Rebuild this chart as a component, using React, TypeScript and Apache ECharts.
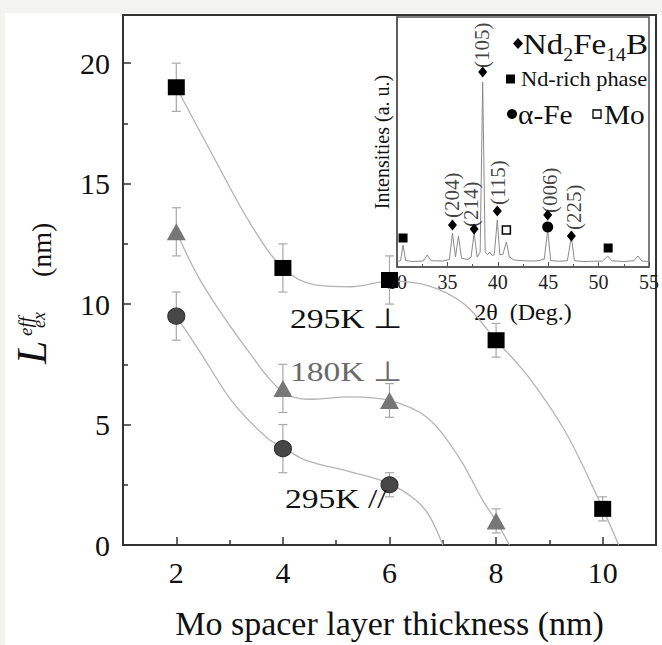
import React, { useEffect, useRef } from 'react';
import * as echarts from 'echarts';

// ---------- main plot data ----------
const thickness = [2, 4, 6, 8, 10];
const perp295 = [19, 11.5, 11, 8.5, 1.5];
const perp295Err = [1, 1, 1, 0.7, 0.5];
const perp180 = [13, 6.5, 6, 1];
const perp180Err = [1, 1, 0.7, 0.5];
const par295 = [9.5, 4, 2.5];
const par295Err = [1, 1, 0.5];

// fitted guide curves
const fitPerp295 = [[2, 19], [2.75, 15.9], [3.4, 13.3], [4, 11.5], [4.6, 10.8], [5.3, 10.72], [6, 10.95], [6.75, 10.75], [7.4, 10], [8, 8.5], [8.6, 7], [9.3, 4.7], [9.9, 2], [10.3, 0]];
const fitPerp180 = [[2, 13], [2.5, 10.8], [3.4, 7.9], [4, 6.35], [4.5, 6.05], [5.25, 6.15], [6, 6], [6.7, 5.3], [7.3, 3.65], [7.75, 1.85], [8, 1], [8.25, 0]];
const fitPar295 = [[2, 9.5], [2.45, 8], [3.05, 5.95], [3.7, 4.45], [4, 4.05], [4.45, 3.5], [5.25, 3.05], [6, 2.55], [6.5, 1.85], [6.75, 1.2], [7.0, 0]];

const xMajorTicks = [2, 4, 6, 8, 10];
const xMinorTicks = [3, 5, 7, 9];
const yMajorTicks = [0, 5, 10, 15, 20];
const yMinorTicks = [2.5, 7.5, 12.5, 17.5];

// ---------- inset (XRD) data ----------
const xrdPattern = [
  [30, 2.2], [30.35, 2.5], [30.6, 8.8], [30.85, 2.6], [31.5, 2.2], [32.6, 2.4], [33.0, 4.8], [33.4, 2.5],
  [34.5, 2.4], [35.2, 3], [35.5, 13.6], [35.8, 4], [36.1, 12.4], [36.4, 3.5], [37.0, 3], [37.35, 4],
  [37.65, 13.6], [37.95, 4], [38.25, 6], [38.5, 74], [38.75, 6], [39.0, 5], [39.2, 6], [39.45, 4.5],
  [39.65, 5], [39.95, 18.8], [40.2, 5], [40.5, 5], [40.85, 10], [41.15, 4], [41.6, 2.8], [42.5, 2.5],
  [43.5, 2.4], [44.2, 2.6], [44.4, 3.2], [44.6, 3], [44.95, 14.8], [45.25, 2.6], [46, 2.3], [46.9, 2.5],
  [47.3, 12], [47.6, 2.5], [48.5, 2.2], [49.5, 2.3], [50.4, 2.4], [50.9, 4.4], [51.3, 2.5], [52.5, 2.2],
  [53.5, 2.5], [53.9, 4.4], [54.3, 2.4], [55, 2.2]
];
const nd2fe14bPeaks = [[35.5, 16.8], [37.65, 15.2], [38.5, 78], [39.95, 22.4], [44.95, 20.8], [47.3, 12.4]];
const ndRichPeaks = [[30.6, 11.6], [50.95, 7.6]];
const alphaFePeaks = [[44.95, 16]];
const moPeaks = [[40.85, 14.8]];
const peakLabels = ['(204)', '(214)', '(105)', '(115)', '(006)', '(225)'];
const peakLabelPos = [[35.5, 19.6], [37.3, 16], [38.45, 79.6], [40.0, 24.8], [45.2, 21.6], [47.6, 14.8]];

const SERIF = 'Liberation Serif';

function errorBars(xs: number[], ys: number[], es: number[]) {
  return xs.slice(0, ys.length).map((x, i) => [x, ys[i] - es[i], ys[i] + es[i]]);
}

function renderErrorBar(_params: any, api: any) {
  const x = api.value(0);
  const lo = api.coord([x, api.value(1)]);
  const hi = api.coord([x, api.value(2)]);
  const hw = 4.5;
  const style = { stroke: '#a8a8a8', lineWidth: 1.2, fill: 'none' };
  return {
    type: 'group',
    children: [
      { type: 'line', shape: { x1: hi[0], y1: hi[1], x2: lo[0], y2: lo[1] }, style },
      { type: 'line', shape: { x1: hi[0] - hw, y1: hi[1], x2: hi[0] + hw, y2: hi[1] }, style },
      { type: 'line', shape: { x1: lo[0] - hw, y1: lo[1], x2: lo[0] + hw, y2: lo[1] }, style },
    ],
  };
}

function txt(x: number, y: number, text: string, size: number, extra: any = {}, style: any = {}) {
  return {
    type: 'text', x, y, z: 50, ...extra,
    style: {
      text, fontSize: size, fontFamily: SERIF, fill: '#111',
      textAlign: 'left', align: 'left', textVerticalAlign: 'middle', verticalAlign: 'middle',
      ...style,
    },
  };
}

export default function App() {
  const ref = useRef<HTMLDivElement>(null);
  useEffect(() => {
    if (!ref.current) return;
    const chart = echarts.init(ref.current, null, { renderer: 'svg' });
    const axisColor = '#333';
    const fitStyle = { color: '#b4b4b4', width: 1.3 };
    const rot = { rotation: Math.PI / 2 };
    const option: any = {
      animation: false,
      backgroundColor: 'transparent',
      textStyle: { fontFamily: SERIF },
      grid: [
        { left: 123, right: 6, top: 15, bottom: 93, show: true, borderColor: axisColor, borderWidth: 2, backgroundColor: 'transparent' },
        { left: 397, top: 17, width: 258, height: 250, show: true, borderColor: '#555', borderWidth: 1.5, backgroundColor: '#fff' },
      ],
      xAxis: [
        {
          type: 'value', gridIndex: 0, min: 1, max: 11, position: 'bottom',
          axisLine: { show: true, lineStyle: { color: axisColor, width: 2 } },
          axisTick: { show: true, inside: true, length: 8, customValues: xMajorTicks, lineStyle: { color: axisColor, width: 1.5 } },
          axisLabel: { customValues: xMajorTicks, fontSize: 30, fontFamily: SERIF, color: '#111', margin: 12 },
          splitLine: { show: false },
          name: 'Mo spacer layer thickness (nm)', nameLocation: 'middle', nameGap: 61,
          nameTextStyle: { fontSize: 34, fontFamily: SERIF, color: '#111' },
        },
        {
          type: 'value', gridIndex: 1, min: 30, max: 55, interval: 5, position: 'bottom',
          axisLine: { show: true, lineStyle: { color: '#555', width: 1.5 } },
          axisTick: { show: true, inside: true, length: 5, lineStyle: { color: '#555' } },
          minorTick: { show: true, splitNumber: 2, length: 3, lineStyle: { color: '#555' } },
          axisLabel: { fontSize: 20, fontFamily: SERIF, color: '#222', margin: 5 },
          splitLine: { show: false },
          name: '2θ  (Deg.)', nameLocation: 'middle', nameGap: 33,
          nameTextStyle: { fontSize: 24, fontFamily: SERIF, color: '#111' },
        },
        {
          type: 'value', gridIndex: 0, min: 1, max: 11, position: 'bottom',
          axisLine: { show: false },
          axisTick: { show: true, inside: true, length: 5, customValues: xMinorTicks, lineStyle: { color: axisColor, width: 1.5 } },
          axisLabel: { show: false }, splitLine: { show: false },
        },
      ],
      yAxis: [
        {
          type: 'value', gridIndex: 0, min: 0, max: 22, position: 'left',
          axisLine: { show: true, lineStyle: { color: axisColor, width: 2 } },
          axisTick: { show: true, inside: true, length: 8, customValues: yMajorTicks, lineStyle: { color: axisColor, width: 1.5 } },
          axisLabel: { customValues: yMajorTicks, fontSize: 30, fontFamily: SERIF, color: '#111', margin: 13 },
          splitLine: { show: false },
        },
        {
          type: 'value', gridIndex: 1, min: 0, max: 100, position: 'left',
          axisLine: { show: true, lineStyle: { color: '#555', width: 1.5 } },
          axisTick: { show: false }, axisLabel: { show: false }, splitLine: { show: false },
          name: 'Intensities (a. u.)', nameLocation: 'middle', nameRotate: 90, nameGap: 5,
          nameTextStyle: { fontSize: 20, fontFamily: SERIF, color: '#111' },
        },
        {
          type: 'value', gridIndex: 0, min: 0, max: 22, position: 'left',
          axisLine: { show: false },
          axisTick: { show: true, inside: true, length: 5, customValues: yMinorTicks, lineStyle: { color: axisColor, width: 1.5 } },
          axisLabel: { show: false }, splitLine: { show: false },
        },
      ],
      series: [
        // inset
        { type: 'line', xAxisIndex: 1, yAxisIndex: 1, data: xrdPattern, showSymbol: false, symbol: 'none', lineStyle: { color: '#8a8a8a', width: 1 }, z: 2 },
        { type: 'scatter', xAxisIndex: 1, yAxisIndex: 1, data: nd2fe14bPeaks, symbol: 'diamond', symbolSize: [9, 11], itemStyle: { color: '#000', opacity: 1 }, z: 3 },
        { type: 'scatter', xAxisIndex: 1, yAxisIndex: 1, data: ndRichPeaks, symbol: 'rect', symbolSize: 9, itemStyle: { color: '#000', opacity: 1 }, z: 3 },
        { type: 'scatter', xAxisIndex: 1, yAxisIndex: 1, data: alphaFePeaks, symbol: 'circle', symbolSize: 11, itemStyle: { color: '#000', opacity: 1 }, z: 3 },
        { type: 'scatter', xAxisIndex: 1, yAxisIndex: 1, data: moPeaks, symbol: 'rect', symbolSize: 8, itemStyle: { color: '#fff', borderColor: '#000', borderWidth: 1.5, opacity: 1 }, z: 3 },
        {
          type: 'scatter', xAxisIndex: 1, yAxisIndex: 1, symbolSize: 1, itemStyle: { color: 'rgba(0,0,0,0)' }, z: 3,
          data: peakLabelPos.map((p, i) => ({ value: p, name: peakLabels[i] })),
          label: {
            show: true, formatter: '{b}', position: 'inside', rotate: 90, align: 'left', verticalAlign: 'middle',
            fontSize: 21, fontFamily: SERIF, color: '#111',
          },
        },
        // main fits
        { type: 'line', data: fitPerp295, smooth: 0.35, symbol: 'none', lineStyle: fitStyle, z: 2 },
        { type: 'line', data: fitPerp180, smooth: 0.35, symbol: 'none', lineStyle: fitStyle, z: 2 },
        { type: 'line', data: fitPar295, smooth: 0.35, symbol: 'none', lineStyle: fitStyle, z: 2 },
        // error bars
        { type: 'custom', renderItem: renderErrorBar, data: errorBars(thickness, perp295, perp295Err), encode: { x: 0, y: [1, 2] }, z: 4 },
        { type: 'custom', renderItem: renderErrorBar, data: errorBars(thickness, perp180, perp180Err), encode: { x: 0, y: [1, 2] }, z: 4 },
        { type: 'custom', renderItem: renderErrorBar, data: errorBars(thickness, par295, par295Err), encode: { x: 0, y: [1, 2] }, z: 4 },
        // markers
        { type: 'scatter', data: thickness.slice(0, perp295.length).map((x, i) => [x, perp295[i]]), symbol: 'rect', symbolSize: [17, 16], itemStyle: { color: '#000', opacity: 1 }, z: 6 },
        { type: 'scatter', data: thickness.slice(0, perp180.length).map((x, i) => [x, perp180[i]]), symbol: 'triangle', symbolSize: [19, 17], itemStyle: { color: '#777', opacity: 1 }, z: 6 },
        { type: 'scatter', data: thickness.slice(0, par295.length).map((x, i) => [x, par295[i]]), symbol: 'circle', symbolSize: [17, 16], itemStyle: { color: '#474747', borderColor: '#2a2a2a', borderWidth: 1, opacity: 1 }, z: 6 },
      ],
      graphic: [
        { type: 'rect', z: -100, shape: { x: 5, y: 13, width: 657, height: 632 }, style: { fill: '#fff' } },
        // annotations
        txt(290, 318, '295K ⊥', 28, { scaleX: 1.2 }),
        txt(290, 371, '180K ⊥', 28, { scaleX: 1.2 }, { fill: '#6a6a6a' }),
        txt(285, 498, '295K //', 28, { scaleX: 1.2 }),
        // y-axis title (rotated)
        txt(32, 364, 'L', 42, rot, { fontStyle: 'italic' }),
        txt(25, 336, 'eff', 19, rot, { fontStyle: 'italic' }),
        txt(39, 328, 'ex', 18, rot, { fontStyle: 'italic' }),
        txt(41, 277, '(nm)', 28, rot),
        // inset legend
        { type: 'polygon', z: 50, shape: { points: [[518, 38], [523, 43.5], [518, 49], [513, 43.5]] }, style: { fill: '#000' } },
        {
          type: 'text', x: 523, y: 44, z: 50, scaleX: 1.1,
          style: {
            text: '{m|Nd}{s|2}{m|Fe}{s|14}{m|B}', fill: '#111', fontFamily: SERIF, fontSize: 30,
            textAlign: 'left', align: 'left', textVerticalAlign: 'middle', verticalAlign: 'middle',
            rich: {
              m: { fontSize: 30, fontFamily: SERIF, lineHeight: 40, verticalAlign: 'middle', fill: '#111' },
              s: { fontSize: 18, fontFamily: SERIF, lineHeight: 20, verticalAlign: 'bottom', fill: '#111' },
            },
          },
        },
        { type: 'rect', z: 50, shape: { x: 506, y: 74.5, width: 9, height: 9 }, style: { fill: '#000' } },
        txt(521, 79, 'Nd-rich phase', 20, { scaleX: 1.12 }),
        { type: 'circle', z: 50, shape: { cx: 512, cy: 114, r: 5 }, style: { fill: '#000' } },
        txt(518, 114, 'α-Fe', 28, { scaleX: 1.05 }),
        { type: 'rect', z: 50, shape: { x: 593, y: 110, width: 8, height: 8 }, style: { fill: '#fff', stroke: '#000', lineWidth: 1.3 } },
        txt(604, 114, 'Mo', 28, { scaleX: 1.05 }),
      ],
    };
    chart.setOption(option);
    return () => chart.dispose();
  }, []);
  return (
    <div style={{ position: 'fixed', left: 0, top: 0, width: 662, height: 645, background: '#f3f4ef' }}>
      <div ref={ref} style={{ width: 662, height: 645 }} />
    </div>
  );
}
